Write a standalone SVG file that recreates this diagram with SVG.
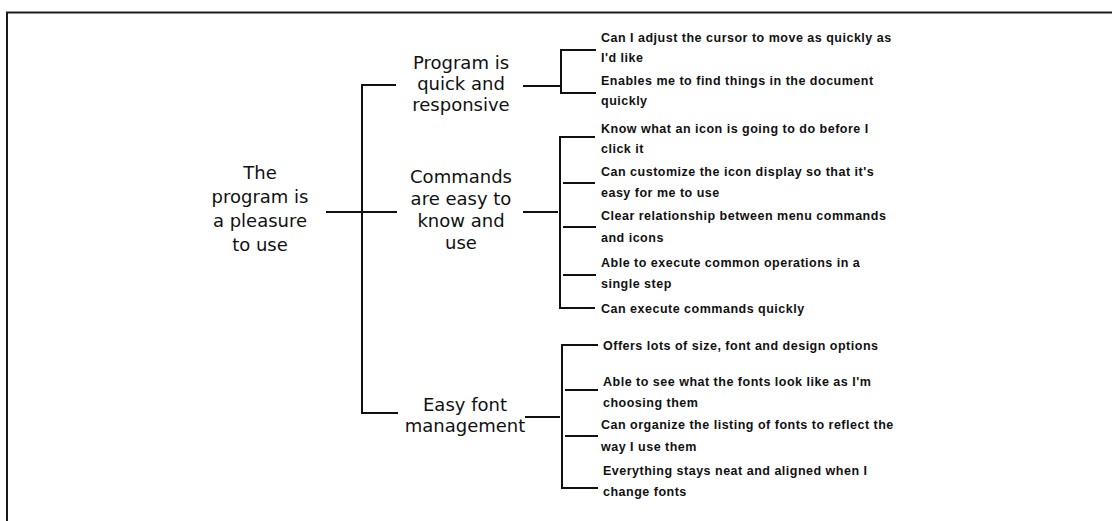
<svg xmlns="http://www.w3.org/2000/svg" width="1112" height="521" viewBox="0 0 1112 521">
  <style>
    .frame { fill: none; stroke: #1a1a1a; stroke-width: 2; }
    .wire { fill: none; stroke: #111; stroke-width: 2; }
    .big { font-family: "DejaVu Sans", "Liberation Sans", sans-serif; font-size: 18px; fill: #111; text-anchor: middle; }
    .small { font-family: "Liberation Sans", Arial, sans-serif; font-size: 12.5px; font-weight: bold; letter-spacing: 0.5px; fill: #111; }
  </style>
  <rect x="0" y="0" width="1112" height="521" fill="#ffffff"/>

  <!-- outer frame: top and left edges -->
  <path class="frame" d="M7,521 V12.5 H1112"/>

  <!-- connectors -->
  <g id="connectors">
    <!-- root to first level -->
    <path class="wire" d="M326,212 H397"/>
    <path class="wire" d="M396,85 H362 V413 H398"/>
    <!-- quick and responsive -->
    <path class="wire" d="M523,86 H561"/>
    <path class="wire" d="M596,50 H561 V93 H596"/>
    <!-- commands -->
    <path class="wire" d="M523,212 H558"/>
    <path class="wire" d="M595,137 H560 V308 H595"/>
    <path class="wire" d="M563,183 H595"/>
    <path class="wire" d="M563,227 H596"/>
    <path class="wire" d="M563,275 H596"/>
    <!-- font management -->
    <path class="wire" d="M525,417 H560"/>
    <path class="wire" d="M598,345 H562 V488 H598"/>
    <path class="wire" d="M565,390 H598"/>
    <path class="wire" d="M565,436 H598"/>
  </g>

  <g id="root">
    <text class="big" x="260" y="179">The</text>
    <text class="big" x="260" y="203">program is</text>
    <text class="big" x="260" y="227">a pleasure</text>
    <text class="big" x="260" y="251">to use</text>
  </g>

  <g id="quick">
    <text class="big" x="461" y="69">Program is</text>
    <text class="big" x="461" y="90">quick and</text>
    <text class="big" x="461" y="111">responsive</text>
  </g>

  <g id="commands">
    <text class="big" x="461" y="183">Commands</text>
    <text class="big" x="461" y="205">are easy to</text>
    <text class="big" x="461" y="227">know and</text>
    <text class="big" x="461" y="249">use</text>
  </g>

  <g id="fonts">
    <text class="big" x="465" y="411">Easy font</text>
    <text class="big" x="465" y="432">management</text>
  </g>

  <g id="q1">
    <text class="small" x="601" y="42">Can I adjust the cursor to move as quickly as</text>
    <text class="small" x="601" y="62">I'd like</text>
  </g>
  <g id="q2">
    <text class="small" x="601" y="85">Enables me to find things in the document</text>
    <text class="small" x="601" y="105">quickly</text>
  </g>
  <g id="c1">
    <text class="small" x="601" y="133">Know what an icon is going to do before I</text>
    <text class="small" x="601" y="153">click it</text>
  </g>
  <g id="c2">
    <text class="small" x="601" y="176">Can customize the icon display so that it's</text>
    <text class="small" x="601" y="197">easy for me to use</text>
  </g>
  <g id="c3">
    <text class="small" x="601" y="220">Clear relationship between menu commands</text>
    <text class="small" x="601" y="242">and icons</text>
  </g>
  <g id="c4">
    <text class="small" x="601" y="267">Able to execute common operations in a</text>
    <text class="small" x="601" y="288">single step</text>
  </g>
  <g id="c5">
    <text class="small" x="601" y="313">Can execute commands quickly</text>
  </g>
  <g id="f1">
    <text class="small" x="603" y="350">Offers lots of size, font and design options</text>
  </g>
  <g id="f2">
    <text class="small" x="603" y="386">Able to see what the fonts look like as I'm</text>
    <text class="small" x="603" y="407">choosing them</text>
  </g>
  <g id="f3">
    <text class="small" x="601" y="429">Can organize the listing of fonts to reflect the</text>
    <text class="small" x="601" y="451">way I use them</text>
  </g>
  <g id="f4">
    <text class="small" x="603" y="475">Everything stays neat and aligned when I</text>
    <text class="small" x="603" y="496">change fonts</text>
  </g>
</svg>
